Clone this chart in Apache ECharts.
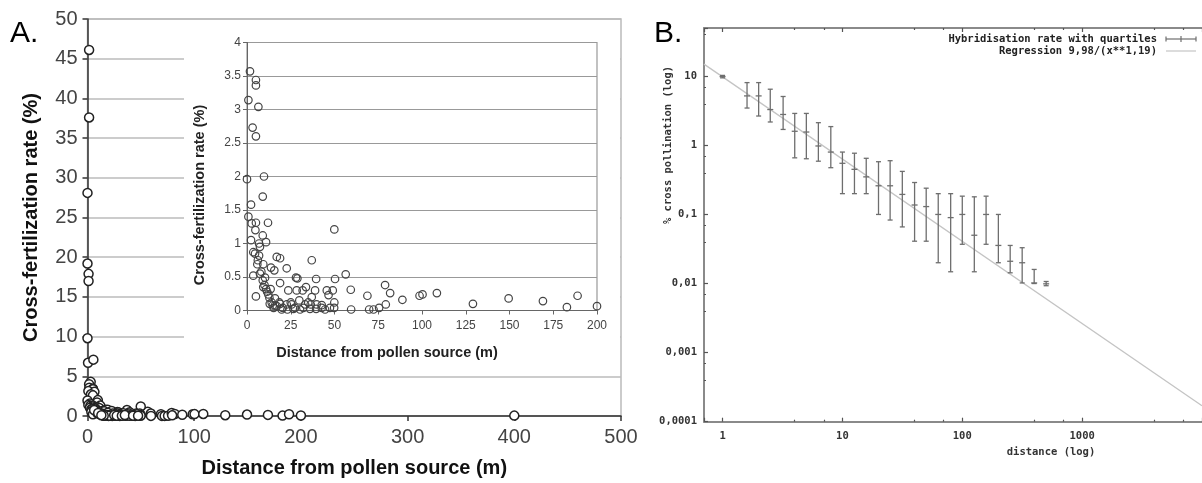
<!DOCTYPE html>
<html>
<head>
<meta charset="utf-8">
<script src="https://cdn.jsdelivr.net/npm/echarts@6/dist/echarts.min.js"></script>
<style>
  html, body { margin: 0; padding: 0; background: #fff; }
  #wrap  { position: relative; width: 1202px; height: 483px; overflow: hidden; }
  #main  { position: absolute; left: 0; top: 0; width: 1202px; height: 483px; }
  #inset { position: absolute; left: 184px; top: 22px; width: 436px; height: 350px; background: #fff; }
</style>
</head>
<body>
<div id="wrap">
  <div id="main"></div>
  <div id="inset"></div>
</div>
<script>
// ── Panel A: distance (m) / cross-fertilization rate (%) ──
// points inside the 0–200 m, 0–4 % window (shown in the inset and in the main plot)
const insetPoints = [
  [1.7, 3.57], [5.1, 3.44], [5.1, 3.36], [0.8, 3.14], [6.5, 3.04], [3.2, 2.73], [5.1, 2.60],
  [9.7, 2.00], [0, 1.96], [9.0, 1.70], [2.3, 1.58], [0.8, 1.40], [2.7, 1.30], [5.1, 1.31],
  [12.0, 1.31], [4.8, 1.20], [9.0, 1.12], [2.3, 1.05], [6.9, 1.00], [10.9, 1.02], [7.4, 0.95],
  [3.6, 0.87], [4.6, 0.85], [6.9, 0.82], [17.0, 0.80], [18.9, 0.78], [5.9, 0.69], [9.3, 0.69],
  [37.0, 0.75], [13.7, 0.64], [15.6, 0.60], [22.7, 0.63], [3.6, 0.52], [7.4, 0.55], [10.3, 0.49],
  [9.0, 0.45], [18.9, 0.41], [28.0, 0.49], [28.8, 0.48], [39.5, 0.47], [50.3, 0.47], [56.4, 0.54],
  [49.9, 1.21], [5.1, 0.21], [9.3, 0.35], [10.9, 0.32], [12.2, 0.24], [13.5, 0.32], [12.8, 0.19],
  [16.0, 0.18], [14.7, 0.075], [17.0, 0.065], [18.9, 0.10], [19.8, 0.015], [23.6, 0.30],
  [28.4, 0.30], [31.8, 0.30], [33.7, 0.35], [37.0, 0.20], [38.9, 0.30], [45.6, 0.30], [49.0, 0.30],
  [46.6, 0.23], [22.7, 0.09], [25.5, 0.09], [29.9, 0.15], [33.2, 0.09], [36.4, 0.09], [39.8, 0.09],
  [42.7, 0.08], [49.9, 0.12], [23.1, 0.015], [26.5, 0.025], [30.3, 0.015], [36.0, 0.025],
  [39.5, 0.025], [44.6, 0.015], [49.8, 0.04], [59.3, 0.31], [59.5, 0.015], [68.8, 0.22],
  [69.8, 0.015], [72.3, 0.015], [75.5, 0.04], [78.9, 0.38], [81.8, 0.26], [79.3, 0.09], [88.8, 0.16],
  [98.6, 0.22], [100.3, 0.24], [108.5, 0.26], [129.1, 0.10], [149.5, 0.18], [169.1, 0.14],
  [182.8, 0.05], [188.9, 0.22], [200, 0.065],
  [14.1, 0.12], [16.0, 0.075], [18.5, 0.12], [20.4, 0.04], [25.0, 0.12], [27.4, 0.04], [32.2, 0.04],
  [35.0, 0.12], [42.7, 0.04], [47.4, 0.04], [11.5, 0.28], [8.2, 0.58], [6.2, 0.75], [10.0, 0.38],
  [15.2, 0.04], [13.0, 0.10]
];
// points only visible in the main plot (above 4 % or beyond 200 m)
const outerPoints = [
  [1.5, 46.1], [1.5, 37.6], [0, 28.1], [0, 19.2], [1, 17.9], [1, 17.0], [0, 9.8],
  [0.5, 6.7], [5.5, 7.1], [3, 4.3], [1.5, 4.0], [400, 0.05]
];

// ── Panel B: hybridisation rate with quartiles (log / log) ──
const hybDist = [1, 1.6, 2, 2.5, 3.2, 4, 5, 6.3, 8, 10, 12.6, 15.8, 20, 25, 31.6, 40, 50, 63, 80,
                 100, 126, 158, 200, 251, 316, 398, 501];
const hybRate = [9.9, 5.2, 5.2, 3.3, 2.8, 1.6, 1.56, 0.98, 0.8, 0.55, 0.45, 0.35, 0.26, 0.26, 0.195,
                 0.137, 0.13, 0.1, 0.09, 0.1, 0.05, 0.1, 0.0356, 0.021, 0.02, 0.0102, 0.0099];
const hybLow  = [9.5, 3.47, 2.66, 2.18, 1.7, 0.66, 0.64, 0.59, 0.475, 0.2, 0.2, 0.2, 0.1, 0.083, 0.066,
                 0.041, 0.041, 0.02, 0.0148, 0.037, 0.0148, 0.037, 0.02, 0.0143, 0.0102, 0.0100, 0.0093];
const hybHigh = [10.3, 8.1, 8.1, 6.5, 5.1, 2.9, 2.9, 2.13, 1.87, 0.8, 0.77, 0.65, 0.58, 0.6, 0.42,
                 0.29, 0.24, 0.2, 0.2, 0.184, 0.18, 0.184, 0.1, 0.0356, 0.033, 0.016, 0.0107];
// regression 9,98/(x**1,19) read at the two ends of the plotted range
const regDist = [0.7, 10000];
const regRate = [15, 0.00017];

const SANS = "'Liberation Sans', Arial, sans-serif";
const MONO = "'DejaVu Sans Mono', monospace";

// comma as decimal sign, like the gnuplot output
function commaLabel(v) {
  return String(Number(v.toPrecision(6))).replace('.', ',');
}

// ── main canvas: panel A main plot + panel B ──
const main = echarts.init(document.getElementById('main'));
main.setOption({
  animation: false,
  grid: [
    { left: 87.5, top: 19, width: 533.5, height: 400.5, show: true,
      borderColor: '#bbb', borderWidth: 1.5, backgroundColor: 'transparent' },
    { left: 704, top: 28, width: 506, height: 393.7 }
  ],
  xAxis: [
    { gridIndex: 0, type: 'value', min: 0, max: 500, interval: 100,
      name: 'Distance from pollen source (m)', nameLocation: 'middle', nameGap: 42,
      nameTextStyle: { fontFamily: SANS, fontSize: 20, fontWeight: 'bold', color: '#111' },
      axisLine: { lineStyle: { color: '#333', width: 1.5 } },
      axisTick: { length: 5, lineStyle: { color: '#333', width: 1.5 } },
      axisLabel: { fontFamily: SANS, fontSize: 20, color: '#444', margin: 11 },
      splitLine: { show: false } },
    { gridIndex: 1, type: 'log', logBase: 10, min: 0.7, max: 10000,
      axisLine: { lineStyle: { color: '#8a8a8a', width: 2 } },
      axisTick: { inside: true, length: 4, lineStyle: { color: '#555', width: 1.2 } },
      minorTick: { show: true, splitNumber: 3, length: 2, lineStyle: { color: '#555', width: 1.2 } },
      axisLabel: { fontFamily: MONO, fontWeight: 'bold', fontSize: 10.5, color: '#333', margin: 9,
        showMinLabel: false, showMaxLabel: false, formatter: commaLabel },
      splitLine: { show: false } },
    { gridIndex: 1, type: 'log', logBase: 10, min: 0.7, max: 10000, position: 'top',
      axisLine: { lineStyle: { color: '#8a8a8a', width: 2 } },
      axisTick: { inside: true, length: 4, lineStyle: { color: '#555', width: 1.2 } },
      minorTick: { show: true, splitNumber: 3, length: 2, lineStyle: { color: '#555', width: 1.2 } },
      axisLabel: { show: false }, splitLine: { show: false } }
  ],
  yAxis: [
    { gridIndex: 0, type: 'value', min: 0, max: 50, interval: 5,
      name: 'Cross-fertilization rate (%)', nameLocation: 'middle', nameGap: 46,
      nameTextStyle: { fontFamily: SANS, fontSize: 20, fontWeight: 'bold', color: '#111' },
      axisLine: { lineStyle: { color: '#333', width: 1.5 } },
      axisTick: { length: 5, lineStyle: { color: '#333', width: 1.5 } },
      axisLabel: { fontFamily: SANS, fontSize: 20, color: '#444', margin: 10 },
      splitLine: { lineStyle: { color: '#bbb', width: 1.5 } } },
    { gridIndex: 1, type: 'log', logBase: 10, min: 0.0001, max: 50,
      axisLine: { lineStyle: { color: '#8a8a8a', width: 2 } },
      axisTick: { inside: true, length: 4, lineStyle: { color: '#555', width: 1.2 } },
      minorTick: { show: true, splitNumber: 3, length: 2, lineStyle: { color: '#555', width: 1.2 } },
      axisLabel: { fontFamily: MONO, fontWeight: 'bold', fontSize: 10.5, color: '#333', margin: 7,
        showMaxLabel: false, formatter: commaLabel },
      splitLine: { show: false } }
  ],
  graphic: [
    { type: 'text', left: 10, top: 19, style: { text: 'A.', font: '30px ' + SANS, fill: '#000' } },
    { type: 'text', left: 654, top: 19, style: { text: 'B.', font: '30px ' + SANS, fill: '#000' } },
    { type: 'text', x: 668, y: 145, rotation: Math.PI / 2,
      style: { text: '% cross pollination (log)', font: 'bold 10.5px ' + MONO, fill: '#333',
               textAlign: 'center', textVerticalAlign: 'middle' } },
    { type: 'text', x: 1051, y: 452,
      style: { text: 'distance (log)', font: 'bold 10.5px ' + MONO, fill: '#333',
               textAlign: 'center', textVerticalAlign: 'middle' } },
    // legend of panel B
    { type: 'text', x: 1157, y: 39,
      style: { text: 'Hybridisation rate with quartiles', font: 'bold 10.5px ' + MONO, fill: '#222',
               textAlign: 'right', textVerticalAlign: 'middle' } },
    { type: 'text', x: 1157, y: 51,
      style: { text: 'Regression 9,98/(x**1,19)', font: 'bold 10.5px ' + MONO, fill: '#222',
               textAlign: 'right', textVerticalAlign: 'middle' } },
    { type: 'group', children: [
      { type: 'line', shape: { x1: 1166, y1: 39, x2: 1196, y2: 39 }, style: { stroke: '#6e6e6e', lineWidth: 1.2 } },
      { type: 'line', shape: { x1: 1166, y1: 36.5, x2: 1166, y2: 41.5 }, style: { stroke: '#6e6e6e', lineWidth: 1.2 } },
      { type: 'line', shape: { x1: 1196, y1: 36.5, x2: 1196, y2: 41.5 }, style: { stroke: '#6e6e6e', lineWidth: 1.2 } },
      { type: 'line', shape: { x1: 1181, y1: 36, x2: 1181, y2: 42 }, style: { stroke: '#6e6e6e', lineWidth: 1.2 } },
      { type: 'line', shape: { x1: 1166, y1: 51, x2: 1196, y2: 51 }, style: { stroke: '#c4c4c4', lineWidth: 1.2 } }
    ] }
  ],
  series: [
    { type: 'scatter', xAxisIndex: 0, yAxisIndex: 0,
      data: outerPoints.concat(insetPoints),
      symbol: 'circle', symbolSize: 9,
      itemStyle: { color: '#fff', borderColor: '#222', borderWidth: 1.5, opacity: 1 } },
    { type: 'line', xAxisIndex: 1, yAxisIndex: 1, z: 1,
      data: regDist.map((d, i) => [d, regRate[i]]),
      showSymbol: false, lineStyle: { color: '#c4c4c4', width: 1.3 } },
    { type: 'custom', xAxisIndex: 1, yAxisIndex: 1, z: 3,
      data: hybDist.map((d, i) => [d, hybRate[i], hybLow[i], hybHigh[i]]),
      encode: { x: 0, y: [1, 2, 3] },
      renderItem: function (params, api) {
        const x = api.value(0);
        const c = api.coord([x, api.value(1)]);
        const lo = api.coord([x, api.value(2)]);
        const hi = api.coord([x, api.value(3)]);
        const cap = 2.5, mid = 3;
        const st = { stroke: '#6e6e6e', lineWidth: 1.3 };
        return { type: 'group', children: [
          { type: 'line', shape: { x1: lo[0], y1: lo[1], x2: hi[0], y2: hi[1] }, style: st },
          { type: 'line', shape: { x1: lo[0] - cap, y1: lo[1], x2: lo[0] + cap, y2: lo[1] }, style: st },
          { type: 'line', shape: { x1: hi[0] - cap, y1: hi[1], x2: hi[0] + cap, y2: hi[1] }, style: st },
          { type: 'line', shape: { x1: c[0] - mid, y1: c[1], x2: c[0] + mid, y2: c[1] }, style: st }
        ] };
      } }
  ]
});

// ── inset of panel A (0–200 m, 0–4 %) ──
const inset = echarts.init(document.getElementById('inset'));
inset.setOption({
  animation: false,
  grid: { left: 63, top: 20.5, right: 23, bottom: 61.5, show: true,
          borderColor: '#999', borderWidth: 1.2, backgroundColor: 'transparent' },
  xAxis: { type: 'value', min: 0, max: 200, interval: 25,
    axisLine: { lineStyle: { color: '#666', width: 1 } },
    axisTick: { length: 4, lineStyle: { color: '#666' } },
    axisLabel: { fontFamily: SANS, fontSize: 12, color: '#444', margin: 9 },
    splitLine: { show: false } },
  yAxis: { type: 'value', min: 0, max: 4, interval: 0.5,
    axisLine: { lineStyle: { color: '#666', width: 1 } },
    axisTick: { length: 4, lineStyle: { color: '#666' } },
    axisLabel: { fontFamily: SANS, fontSize: 12, color: '#444', margin: 6 },
    splitLine: { lineStyle: { color: '#999', width: 1.2 } } },
  graphic: [
    { type: 'text', x: 203, y: 331,
      style: { text: 'Distance from pollen source (m)', font: 'bold 14.5px ' + SANS, fill: '#222',
               textAlign: 'center', textVerticalAlign: 'middle' } },
    { type: 'text', x: 16, y: 173, rotation: Math.PI / 2,
      style: { text: 'Cross-fertilization rate (%)', font: 'bold 14.5px ' + SANS, fill: '#222',
               textAlign: 'center', textVerticalAlign: 'middle' } }
  ],
  series: [
    { type: 'scatter', data: insetPoints, symbol: 'circle', symbolSize: 7.5,
      itemStyle: { color: 'rgba(255,255,255,0)', borderColor: '#444', borderWidth: 1.2, opacity: 1 } }
  ]
});
</script>
</body>
</html>
